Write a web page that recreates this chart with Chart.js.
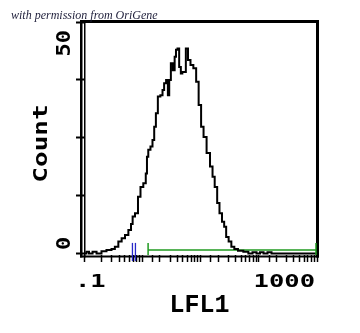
<!DOCTYPE html>
<html>
<head>
<meta charset="utf-8">
<script src="https://cdn.jsdelivr.net/npm/chart.js@4.4.0/dist/chart.umd.min.js"></script>
<style>
    html, body { margin: 0; padding: 0; background: #fff; }
    canvas { display: block; }
</style>
</head>
<body>
<canvas id="myChart" width="360" height="333"></canvas>
<script>
// LFL1 channel values (log axis) and counts
const lfl1 = [0.1, 0.104, 0.117, 0.127, 0.155, 0.174, 0.188, 0.212, 0.279, 0.315,
    0.364, 0.415, 0.473, 0.541, 0.617, 0.667, 0.701, 0.803, 0.889, 0.979,
    1.11, 1.19, 1.22, 1.32, 1.45, 1.55, 1.66, 1.77, 1.94, 2.16,
    2.30, 2.45, 2.69, 2.82, 2.99, 3.21, 3.51, 3.69, 3.90, 4.16,
    4.45, 4.75, 5.01, 5.42, 5.79, 6.42, 7.06, 8.05, 8.81, 9.80,
    10.7, 11.9, 13.6, 15.6, 16.6, 18.5, 20.2, 22.2, 24.6, 26.4,
    28.8, 32.1, 35.7, 40.6, 47.6, 62.1, 70.8, 86.3, 97.1, 114,
    128, 156, 176, 1000];
const counts = [0, 0, 0.4, 0, 0.4, 0, 0, 0.5, 0.8, 1.0,
    1.5, 2.6, 3.3, 4.0, 5.1, 6.4, 8.0, 8.7, 12.3, 14.4,
    15.2, 17.3, 20.9, 22.4, 23.1, 24.5, 27.4, 30.3, 33.9, 34.2,
    35.3, 36.8, 37.5, 34.2, 37.5, 41.1, 39.6, 42.5, 44.0, 44.3,
    40.3, 38.9, 39.2, 39.2, 44.3, 41.8, 40.7, 40.0, 37.1, 32.1,
    27.4, 25.2, 21.7, 18.8, 16.6, 14.4, 10.9, 8.7, 6.9, 5.8,
    3.6, 2.6, 1.5, 1.0, 0.6, 0.4, 0, 0.3, 0, 0.3,
    0, 0.3, 0, 0];

// gate (green) and marker (blue)
const gateRange = [1.26, 1000];
const gateLevel = 0.8;
const markerPos = 0.72;

// axes
const xRange = [0.1, 1000];
const xTickLabels = [".1", "1000"];
const yTicks = [0, 12.5, 25, 37.5, 50];
const yTickLabels = ["0", "50"];
const xTitle = "LFL1";
const yTitle = "Count";
const caption = "with permission from OriGene";

function wideText(ctx, text, px, py, rot, sx, align) {
    ctx.save();
    ctx.translate(px, py);
    ctx.rotate(rot);
    ctx.scale(sx, 1);
    ctx.textAlign = align;
    ctx.textBaseline = "alphabetic";
    ctx.fillText(text, 0, 0);
    ctx.restore();
}

const facsFrame = {
    id: 'facsFrame',
    afterDraw(chart) {
        const ctx = chart.ctx;
        const a = chart.chartArea;
        const x = chart.scales.x;
        const y = chart.scales.y;
        ctx.save();
        ctx.fillStyle = "#000";
        // frame: double left line, top, right, bottom axis
        ctx.fillRect(a.left - 4, a.top - 2, 2.5, a.bottom - a.top + 4.5);
        ctx.fillRect(a.left, a.top - 2, 1.5, a.bottom - a.top + 4.5);
        ctx.fillRect(a.left - 4, a.top - 2, a.right - a.left + 6, 3);
        ctx.fillRect(a.right - 1, a.top - 2, 3, a.bottom - a.top + 4.5);
        ctx.fillRect(a.left - 4, a.bottom + 0.5, a.right - a.left + 6, 2);

        // gate end ticks
        const gy = y.getPixelForValue(gateLevel);
        ctx.strokeStyle = "#1f9a1f";
        ctx.lineWidth = 1.5;
        gateRange.forEach((v) => {
            const gx = Math.min(x.getPixelForValue(v), a.right - 1);
            ctx.beginPath();
            ctx.moveTo(gx, gy - 7);
            ctx.lineTo(gx, gy + 5);
            ctx.stroke();
        });

        // blue marker
        const mx = x.getPixelForValue(markerPos);
        ctx.strokeStyle = "#2828c8";
        ctx.lineWidth = 1.3;
        [-1.5, 1.5].forEach((d) => {
            ctx.beginPath();
            ctx.moveTo(mx + d, gy - 7);
            ctx.lineTo(mx + d, a.bottom + 6);
            ctx.stroke();
        });

        // tick labels
        ctx.fillStyle = "#000";
        ctx.font = 'bold 17px "DejaVu Sans Mono"';
        const bx = a.bottom + 32;
        wideText(ctx, xTickLabels[0], x.getPixelForValue(xRange[0]) - 9, bx, 0, 1.5, "left");
        wideText(ctx, xTickLabels[1], x.getPixelForValue(xRange[1]) - 2, bx, 0, 1.5, "right");

        ctx.font = 'bold 20px "DejaVu Sans Mono"';
        const lx = a.left - 14;
        wideText(ctx, yTickLabels[0], lx, y.getPixelForValue(0) - 3.5, -Math.PI / 2, 1.1, "left");
        wideText(ctx, yTickLabels[1], lx, y.getPixelForValue(50) + 8, -Math.PI / 2, 1.1, "right");

        // axis titles
        wideText(ctx, yTitle, a.left - 37, (a.top + a.bottom) / 2 + 5, -Math.PI / 2, 1.3, "center");
        ctx.font = 'bold 25px "Liberation Mono"';
        wideText(ctx, xTitle, (a.left + a.right) / 2 - 1, a.bottom + 57, 0, 1, "center");

        // caption
        ctx.fillStyle = "#1e1e3a";
        ctx.font = 'italic 12px "Liberation Serif"';
        wideText(ctx, caption, 11, 19, 0, 1.0, "left");
        ctx.restore();
    }
};

const histData = lfl1.map((v, i) => ({ x: v, y: counts[i] }));
const gateData = gateRange.map((v) => ({ x: v, y: gateLevel }));

new Chart(document.getElementById("myChart"), {
    type: 'line',
    data: {
        datasets: [{
            label: 'LFL1',
            data: histData,
            borderColor: '#000',
            borderWidth: 2,
            pointRadius: 0,
            stepped: 'middle',
            fill: false
        }, {
            label: 'gate',
            data: gateData,
            borderColor: '#1f9a1f',
            borderWidth: 1.5,
            pointRadius: 0,
            fill: false
        }]
    },
    options: {
        responsive: false,
        animation: false,
        events: [],
        layout: { padding: { left: 76, right: 43, top: 22, bottom: 71 } },
        plugins: { legend: { display: false }, tooltip: { enabled: false } },
        scales: {
            x: {
                type: 'logarithmic',
                min: xRange[0],
                max: xRange[1],
                border: { display: false },
                grid: { drawOnChartArea: false, tickLength: 7, tickWidth: 1.5, tickColor: '#000' },
                ticks: { display: false, autoSkip: false }
            },
            y: {
                min: -0.3,
                max: 50,
                afterBuildTicks: (scale) => { scale.ticks = yTicks.map((v) => ({ value: v })); },
                border: { display: false },
                grid: { drawOnChartArea: false, tickLength: 8, tickWidth: 2, tickColor: '#000' },
                ticks: { display: false }
            }
        }
    },
    plugins: [facsFrame]
});
</script>
</body>
</html>
